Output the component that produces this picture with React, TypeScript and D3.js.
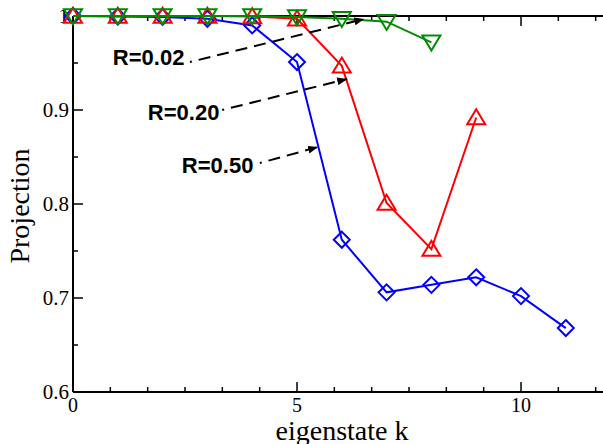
import React from "react";
import * as d3 from "d3";

const kBlue = [0, 1, 2, 3, 4, 5, 6, 7, 8, 9, 10, 11];
const projBlue = [1.0, 0.9995, 0.999, 0.997, 0.99, 0.951, 0.762, 0.706, 0.714, 0.722, 0.702, 0.668];
const kRed = [0, 1, 2, 3, 4, 5, 6, 7, 8, 9];
const projRed = [1.0, 1.0, 1.0, 1.0, 0.9995, 0.997, 0.947, 0.801, 0.752, 0.892];
const kGreen = [0, 1, 2, 3, 4, 5, 6, 7, 8];
const projGreen = [1.0, 1.0, 1.0, 1.0, 1.0, 0.999, 0.997, 0.994, 0.972];

const xMajor = [0, 5, 10];
const yMajor = [0.6, 0.7, 0.8, 0.9, 1.0];
const yLabels = ["0.6", "0.7", "0.8", "0.9", "1"];

const annLabels = ["R=0.02", "R=0.20", "R=0.50"];
// label anchor (k, projection) and arrow start / tip (k, projection)
const annTextK = [0.89, 1.67, 2.43];
const annTextP = [0.948, 0.8894, 0.833];
const annStartK = [2.61, 3.33, 4.17];
const annStartP = [0.951, 0.9, 0.8436];
const annTipK = [6.5, 6.12, 5.47];
const annTipP = [0.9968, 0.933, 0.8606];

const W = 603;
const H = 444;

export default function App() {
  const x = d3.scaleLinear().domain([0, 12]).range([73, 73 + 12 * 44.8]);
  const y = d3.scaleLinear().domain([0.6, 1.0]).range([392, 16]);

  const xMinor = d3.range(0, 12.01, 5 / 6).filter((v) => !xMajor.some((m) => Math.abs(m - v) < 1e-6));
  const yMinor = [0.65, 0.75, 0.85, 0.95];

  const line = d3
    .line<[number, number]>()
    .x((d) => x(d[0]))
    .y((d) => y(d[1]));

  const series = [
    { k: kBlue, p: projBlue, color: "#0000ff", sym: "diamond" },
    { k: kRed, p: projRed, color: "#ff0000", sym: "up" },
    { k: kGreen, p: projGreen, color: "#008b00", sym: "down" },
  ];

  const symbol = (sym: string, cx: number, cy: number, color: string, key: string) => {
    if (sym === "diamond") {
      const r = 8;
      return (
        <path key={key} d={`M${cx},${cy - r}L${cx + r},${cy}L${cx},${cy + r}L${cx - r},${cy}Z`} fill="none" stroke={color} strokeWidth={2} />
      );
    }
    const hw = 9;
    const h = 15;
    if (sym === "up") {
      return (
        <path key={key} d={`M${cx},${cy - h * 0.55}L${cx + hw},${cy + h * 0.45}L${cx - hw},${cy + h * 0.45}Z`} fill="none" stroke={color} strokeWidth={2} />
      );
    }
    return (
      <path key={key} d={`M${cx},${cy + h * 0.55}L${cx + hw},${cy - h * 0.45}L${cx - hw},${cy - h * 0.45}Z`} fill="none" stroke={color} strokeWidth={2} />
    );
  };

  const right = x(12);

  return (
    <svg width={W} height={H} style={{ position: "absolute", left: 0, top: 0, background: "#fff" }}>
      <defs>
        <marker id="ah" viewBox="0 0 10 8" refX={10} refY={4} markerWidth={10} markerHeight={8} markerUnits="userSpaceOnUse" orient="auto">
          <path d="M0,0L10,4L0,8Z" fill="#000" />
        </marker>
      </defs>
      <rect x={0} y={0} width={W} height={H} fill="#fff" />

      {/* frame */}
      <line x1={x(0)} x2={right} y1={y(1)} y2={y(1)} stroke="#000" strokeWidth={2} />
      <line x1={x(0)} x2={right} y1={y(0.6)} y2={y(0.6)} stroke="#000" strokeWidth={2} />
      <line x1={x(0)} x2={x(0)} y1={y(0.6)} y2={y(1)} stroke="#000" strokeWidth={2} />

      {/* x ticks */}
      {xMajor.map((v) => (
        <g key={"xm" + v}>
          <line x1={x(v)} x2={x(v)} y1={y(0.6)} y2={y(0.6) - 10} stroke="#000" strokeWidth={1.5} />
          <line x1={x(v)} x2={x(v)} y1={y(1)} y2={y(1) + 10} stroke="#000" strokeWidth={1.5} />
          <text x={x(v)} y={412} textAnchor="middle" fontFamily="'Liberation Serif', 'Times New Roman', serif" fontSize={20}>
            {v}
          </text>
        </g>
      ))}
      {xMinor.map((v, i) => (
        <g key={"xn" + i}>
          <line x1={x(v)} x2={x(v)} y1={y(0.6)} y2={y(0.6) - 5} stroke="#000" strokeWidth={1.5} />
          <line x1={x(v)} x2={x(v)} y1={y(1)} y2={y(1) + 5} stroke="#000" strokeWidth={1.5} />
        </g>
      ))}

      {/* y ticks */}
      {yMajor.map((v, i) => (
        <g key={"ym" + v}>
          <line x1={x(0)} x2={x(0) + 10} y1={y(v)} y2={y(v)} stroke="#000" strokeWidth={1.5} />
          <text x={69} y={y(v) + 7} textAnchor="end" fontFamily="'Liberation Serif', 'Times New Roman', serif" fontSize={21}>
            {yLabels[i]}
          </text>
        </g>
      ))}
      {yMinor.map((v) => (
        <line key={"yn" + v} x1={x(0)} x2={x(0) + 5} y1={y(v)} y2={y(v)} stroke="#000" strokeWidth={1.5} />
      ))}

      {/* axis titles */}
      <text x={342} y={440} textAnchor="middle" fontFamily="'Liberation Serif', 'Times New Roman', serif" fontSize={28}>
        eigenstate k
      </text>
      <text transform="translate(29,206) rotate(-90)" textAnchor="middle" fontFamily="'Liberation Serif', 'Times New Roman', serif" fontSize={28}>
        Projection
      </text>

      {/* data */}
      {series.map((s, si) => {
        const pts: [number, number][] = s.k.map((k, i) => [k, s.p[i]]);
        return (
          <g key={"s" + si}>
            <path d={line(pts) || ""} fill="none" stroke={s.color} strokeWidth={2} />
            {pts.map((d, i) => symbol(s.sym, x(d[0]), y(d[1]), s.color, `m${si}-${i}`))}
          </g>
        );
      })}

      {/* annotations */}
      {annLabels.map((lab, i) => {
        const sx = x(annStartK[i]);
        const sy = y(annStartP[i]);
        const tx = x(annTipK[i]);
        const ty = y(annTipP[i]);
        const len = Math.hypot(tx - sx, ty - sy);
        const ux = (tx - sx) / len;
        const uy = (ty - sy) / len;
        return (
          <g key={"a" + i}>
            <text x={x(annTextK[i])} y={y(annTextP[i])} fontFamily="'Liberation Sans', Arial, sans-serif" fontWeight="bold" fontSize={22}>
              {lab}
            </text>
            <line x1={sx} y1={sy} x2={sx + ux * 2} y2={sy + uy * 2} stroke="#000" strokeWidth={2} />
            <line x1={sx + ux * 9} y1={sy + uy * 9} x2={tx} y2={ty} stroke="#000" strokeWidth={2} strokeDasharray="12,7" markerEnd="url(#ah)" />
          </g>
        );
      })}
    </svg>
  );
}
